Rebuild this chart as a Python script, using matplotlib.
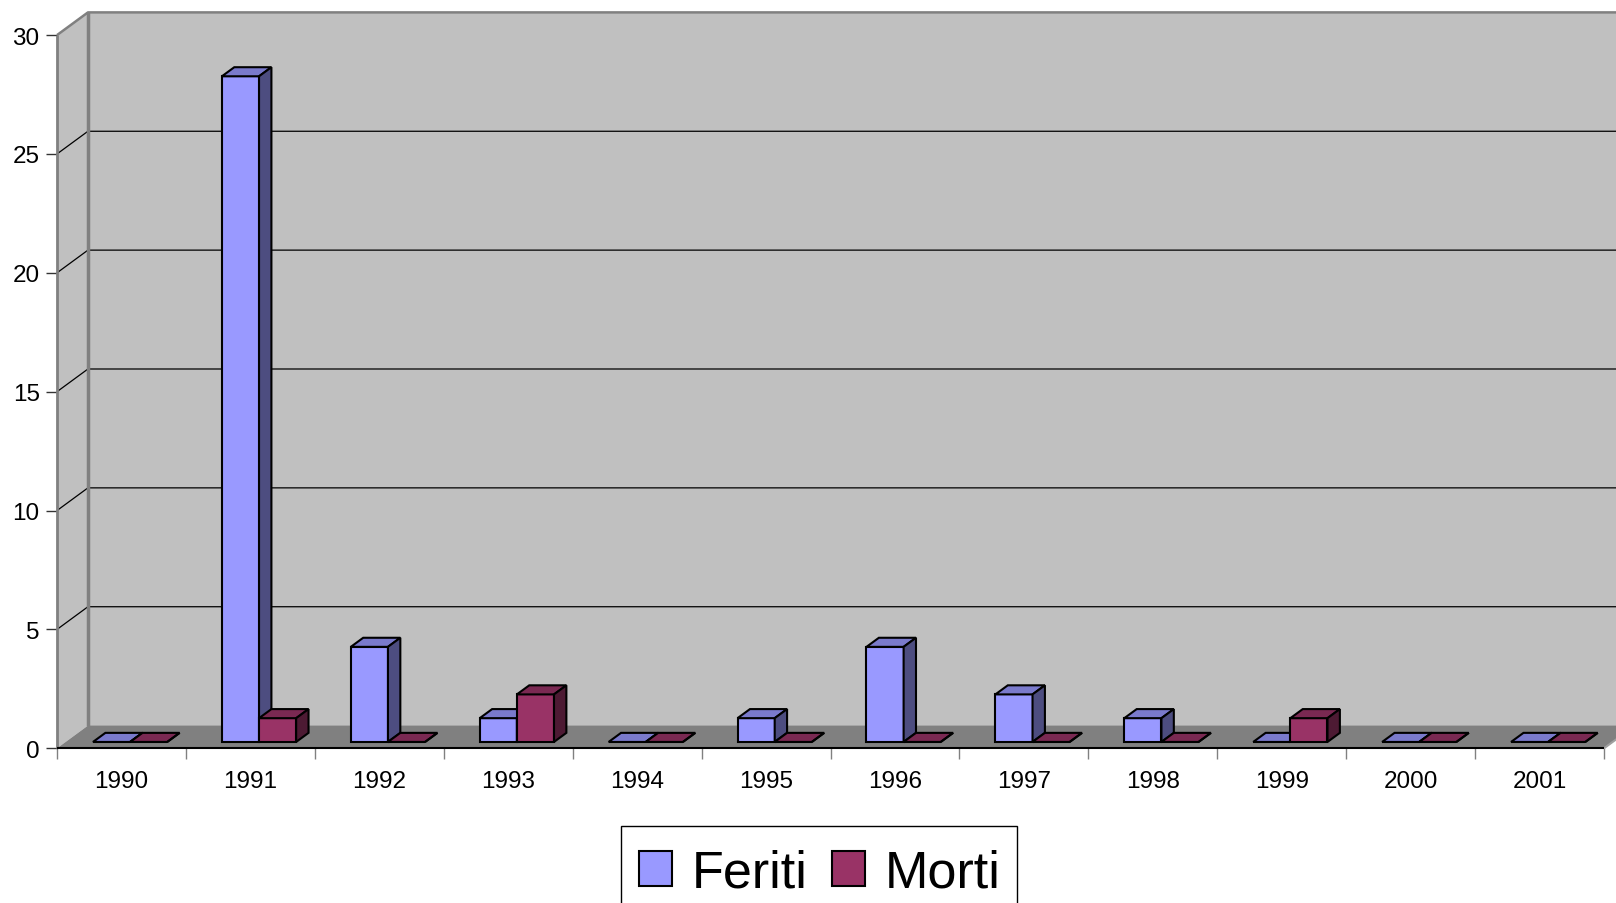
import numpy as np
import matplotlib.pyplot as plt
from matplotlib.patches import Polygon, Patch, Rectangle

years = ["1990", "1991", "1992", "1993", "1994", "1995",
         "1996", "1997", "1998", "1999", "2000", "2001"]
feriti = [0, 28, 4, 1, 0, 1, 4, 2, 1, 0, 0, 0]
morti = [0, 1, 0, 2, 0, 0, 0, 0, 0, 1, 0, 0]

# name, values, front / top / side colours (excel-like shading)
series = [
    ("Feriti", feriti, "#9999FF", "#7A7ACC", "#4D4D80"),
    ("Morti", morti, "#993366", "#7A2952", "#4D1A33"),
]

plt.rcParams["font.family"] = ["Liberation Sans", "DejaVu Sans"]

fig = plt.figure(figsize=(16.16, 9.04), dpi=100)
ax = fig.add_axes([57 / 1616, (904 - 749.3) / 904, 1547 / 1616, 713.2 / 904])
n = len(years)
ymax = 30
ax.set_xlim(0, n)
ax.set_ylim(0, ymax)
for sp in ax.spines.values():
    sp.set_visible(False)

DX, DY = 0.24, 0.955  # depth of the floor, in data units
F0, F1 = 0.28, 0.68   # bar depth span (fraction of floor depth)
BW, BOFF = 0.288, 0.212


def poly(pts, fc, ec="none", lw=0, z=1):
    ax.add_patch(Polygon(pts, closed=True, facecolor=fc, edgecolor=ec,
                         linewidth=lw, zorder=z, clip_on=False,
                         joinstyle="miter"))


def line(xs, ys, c, lw, z):
    ax.plot(xs, ys, color=c, lw=lw, zorder=z, clip_on=False,
            solid_capstyle="butt")


# walls
poly([(DX, DY), (n + 1, DY), (n + 1, ymax + DY), (DX, ymax + DY)], "#C0C0C0", z=1)
poly([(0, 0), (DX, DY), (DX, ymax + DY), (0, ymax)], "#C0C0C0", z=1)

for v in range(5, ymax, 5):
    line([0, DX, n + 1], [v, v + DY, v + DY], "black", 0.9, 2)
line([0, DX, n + 1], [ymax, ymax + DY, ymax + DY], "#808080", 1.8, 2)
line([DX, DX], [DY, ymax + DY], "#808080", 2.5, 2)
line([0, 0], [0, ymax], "#808080", 2, 2)

# floor
poly([(0, 0), (n, 0), (n + DX, DY), (DX, DY)], "#808080", z=3)
line([n, n + DX], [0, DY], "#A0A0A0", 1.5, 3)
line([0, n], [0, 0], "black", 1.5, 4)

# bars
z = 5
for i in range(n):
    for k, (name, vals, cf, ct, cs) in enumerate(series):
        v = vals[i]
        x0 = i + BOFF + k * BW + F0 * DX
        y0 = F0 * DY
        ddx, ddy = (F1 - F0) * DX, (F1 - F0) * DY
        x1 = x0 + BW
        top = y0 + v
        poly([(x0, y0), (x1, y0), (x1, top), (x0, top)], cf, "black", 1.5, z)
        poly([(x0, top), (x1, top), (x1 + ddx, top + ddy), (x0 + ddx, top + ddy)],
             ct, "black", 1.5, z)
        poly([(x1, y0), (x1 + ddx, y0 + ddy), (x1 + ddx, top + ddy), (x1, top)],
             cs, "black", 1.5, z)
        z += 1

# axes ticks
ax.set_yticks(range(0, ymax + 1, 5))
ax.tick_params(axis="y", length=8, width=1, color="#333333", pad=4.5,
               labelsize=17.5)
ax.set_xticks(np.arange(n + 1))
ax.set_xticklabels([])
ax.set_xticks(np.arange(n) + 0.5, minor=True)
ax.set_xticklabels(years, minor=True)
ax.tick_params(axis="x", which="major", length=8, width=1, color="#808080")
ax.tick_params(axis="x", which="minor", length=0, pad=15.5, labelsize=17.5)

# legend: frame drawn separately (it runs off the bottom of the picture)
fig.add_artist(Rectangle((621 / 1616, -0.05), (1017 - 621) / 1616,
                         (904 - 827) / 904 + 0.05, transform=fig.transFigure,
                         fill=False, edgecolor="black", linewidth=1.0))
handles = [Patch(facecolor=s[2], edgecolor="black", linewidth=1.5) for s in series]
fig.legend(handles, [s[0] for s in series], loc="upper center",
           bbox_to_anchor=(820 / 1616, 1 - 834 / 904), ncol=2,
           fontsize=37.5, frameon=False, handlelength=0.64, handleheight=0.64,
           handletextpad=0.38, columnspacing=0.46, borderpad=0.3,
           borderaxespad=0)

fig.savefig("out.png", dpi=100)
